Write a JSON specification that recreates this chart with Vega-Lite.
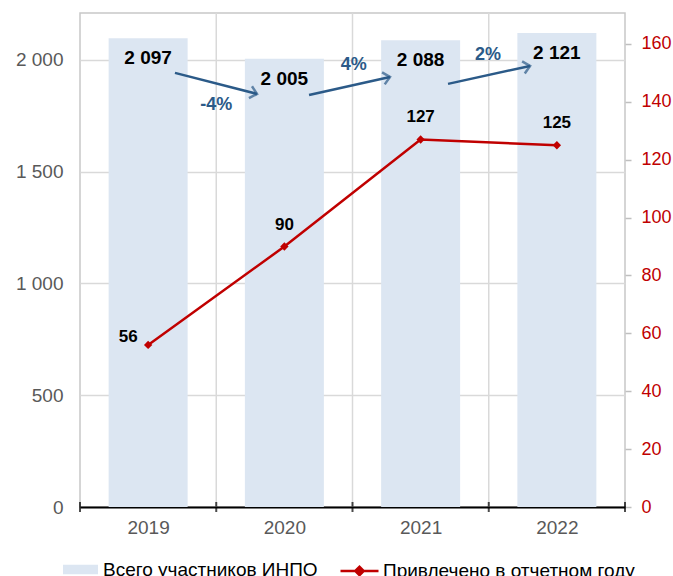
{
  "$schema": "https://vega.github.io/schema/vega-lite/v6.json",
  "width": 545,
  "height": 494,
  "autosize": {"type": "none"},
  "padding": {"left": 80, "top": 13, "right": 48, "bottom": 69},
  "background": "white",
  "config": {
    "locale": {"number": {"decimal": ",", "thousands": " ", "grouping": [3], "currency": ["", ""]}},
    "font": "Liberation Sans",
    "view": {"stroke": "#c8c8c8", "strokeWidth": 1.5},
    "axis": {"labelFont": "Liberation Sans", "labelFontSize": 19, "labelColor": "#595959", "title": null},
    "legend": {"labelFont": "Liberation Sans", "labelFontSize": 19, "labelColor": "#000000", "padding": 0, "orient": "none", "title": null, "labelLimit": 400}
  },
  "datasets": {
    "main": [
      {"year": 2019, "total": 2097, "new": 56},
      {"year": 2020, "total": 2005, "new": 90},
      {"year": 2021, "total": 2088, "new": 127},
      {"year": 2022, "total": 2121, "new": 125}
    ],
    "arrows": [
      {"id": 1, "xs": 2019.197, "ys": 1942, "xe": 2019.799, "ye": 1848},
      {"id": 2, "xs": 2020.181, "ys": 1843, "xe": 2020.775, "ye": 1924},
      {"id": 3, "xs": 2021.201, "ys": 1893, "xe": 2021.803, "ye": 1973}
    ],
    "changes": [
      {"xb": 2019.5, "pct": "-4%", "ly": 1800},
      {"xb": 2020.51, "pct": "4%", "ly": 1977},
      {"xb": 2021.494, "pct": "2%", "ly": 2022}
    ],
    "bounds": [
      {"b": 2018.5}, {"b": 2019.5}, {"b": 2020.5}, {"b": 2021.5}, {"b": 2022.5}
    ]
  },
  "resolve": {"scale": {"y": "independent"}},
  "layer": [
    {
      "layer": [
        {
          "data": {"name": "bounds"},
          "transform": [{"filter": "datum.b > 2019 && datum.b < 2022"}],
          "mark": {"type": "rule", "color": "#d9d9d9", "strokeWidth": 1.5},
          "encoding": {
            "x": {"field": "b", "type": "quantitative", "scale": {"domain": [2018.5, 2022.5], "nice": false, "zero": false, "padding": 0},
              "axis": {"values": [2019, 2020, 2021, 2022], "format": "d", "labelExpr": "datum.value", "ticks": false, "grid": false, "domain": true, "domainColor": "#000000", "domainWidth": 2, "labelPadding": 11, "labelFlush": false, "title": null}}
          }
        },
        {
          "data": {"name": "main"},
          "mark": {"type": "bar", "color": "#dce6f2", "size": 79},
          "encoding": {
            "x": {"field": "year", "type": "quantitative", "title": null},
            "y": {"field": "total", "type": "quantitative", "scale": {"domain": [0, 2210], "nice": false},
              "axis": {"values": [0, 500, 1000, 1500, 2000], "labelExpr": "format(datum.value, ',')", "ticks": false, "domain": false, "grid": true, "gridColor": "#d9d9d9", "gridWidth": 1.5, "labelPadding": 17, "title": null}},
            "color": {"datum": "Всего участников ИНПО", "scale": {"range": ["#dce6f2"]},
              "legend": {"symbolType": "M-1,-0.27H1V0.27H-1Z", "symbolSize": 1225, "symbolStrokeWidth": 0, "labelOffset": 5, "legendX": -17, "legendY": 539}}
          }
        },
        {
          "data": {"name": "main"},
          "mark": {"type": "text", "font": "Liberation Sans", "fontSize": 19, "fontWeight": "bold", "color": "#000000", "baseline": "middle", "dy": 20},
          "encoding": {
            "x": {"field": "year", "type": "quantitative", "title": null},
            "y": {"field": "total", "type": "quantitative", "title": null},
            "text": {"field": "total", "type": "quantitative", "format": ","}
          }
        },
        {
          "data": {"name": "arrows"},
          "mark": {"type": "rule", "color": "#2b5a88", "strokeWidth": 2.5},
          "encoding": {
            "x": {"field": "xs", "type": "quantitative", "title": null},
            "x2": {"field": "xe"},
            "y": {"field": "ys", "type": "quantitative", "title": null},
            "y2": {"field": "ye"}
          }
        },
        {
          "data": {"name": "arrows"},
          "transform": [{"filter": "datum.id == 1"}],
          "mark": {"type": "point", "shape": "M-1.1,-1L0,0L-1.1,1", "size": 150, "filled": false, "color": "#2b5a88", "strokeWidth": 2.5, "angle": 14.4},
          "encoding": {
            "x": {"field": "xe", "type": "quantitative", "title": null},
            "y": {"field": "ye", "type": "quantitative", "title": null}
          }
        },
        {
          "data": {"name": "arrows"},
          "transform": [{"filter": "datum.id != 1"}],
          "mark": {"type": "point", "shape": "M-1.1,-1L0,0L-1.1,1", "size": 150, "filled": false, "color": "#2b5a88", "strokeWidth": 2.5, "angle": 347.5},
          "encoding": {
            "x": {"field": "xe", "type": "quantitative", "title": null},
            "y": {"field": "ye", "type": "quantitative", "title": null}
          }
        },
        {
          "data": {"name": "changes"},
          "mark": {"type": "text", "font": "Liberation Sans", "fontSize": 18, "fontWeight": "bold", "color": "#2b5a88", "baseline": "middle"},
          "encoding": {
            "x": {"field": "xb", "type": "quantitative", "title": null},
            "y": {"field": "ly", "type": "quantitative", "title": null},
            "text": {"field": "pct"}
          }
        },
        {
          "data": {"name": "bounds"},
          "mark": {"type": "tick", "orient": "vertical", "size": 10, "thickness": 2, "color": "#000000"},
          "encoding": {
            "x": {"field": "b", "type": "quantitative", "title": null},
            "y": {"datum": 0, "type": "quantitative"}
          }
        }
      ]
    },
    {
      "data": {"name": "main"},
      "layer": [
        {
          "mark": {"type": "line", "strokeWidth": 2.5},
          "encoding": {
            "x": {"field": "year", "type": "quantitative", "title": null},
            "y": {"field": "new", "type": "quantitative", "scale": {"domain": [0, 170.7], "nice": false},
              "axis": {"orient": "right", "values": [0, 20, 40, 60, 80, 100, 120, 140, 160], "grid": false, "domain": false, "ticks": true, "tickColor": "#bfbfbf", "tickSize": 6, "tickWidth": 1.5, "labelPadding": 10, "labelFontSize": 18, "labelColor": "#c00000", "title": null}},
            "stroke": {"datum": "Привлечено  в отчетном году", "scale": {"range": ["#c00000"]},
              "legend": {"symbolType": "M-1,0H1M-0.22,0L0,-0.22L0.22,0L0,0.22Z", "symbolSize": 1444, "symbolStrokeWidth": 2.5, "symbolFillColor": "#c00000", "labelOffset": 3, "legendX": 259, "legendY": 537.5}}
          }
        },
        {
          "mark": {"type": "point", "shape": "diamond", "filled": true, "color": "#c00000", "size": 70, "opacity": 1},
          "encoding": {
            "x": {"field": "year", "type": "quantitative", "title": null},
            "y": {"field": "new", "type": "quantitative", "title": null}
          }
        },
        {
          "transform": [{"filter": "datum.year != 2019"}],
          "mark": {"type": "text", "font": "Liberation Sans", "fontSize": 17, "fontWeight": "bold", "color": "#000000", "baseline": "middle", "dy": -22},
          "encoding": {
            "x": {"field": "year", "type": "quantitative", "title": null},
            "y": {"field": "new", "type": "quantitative", "title": null},
            "text": {"field": "new", "type": "quantitative"}
          }
        },
        {
          "transform": [{"filter": "datum.year == 2019"}],
          "mark": {"type": "text", "font": "Liberation Sans", "fontSize": 17, "fontWeight": "bold", "color": "#000000", "baseline": "middle", "dx": -20, "dy": -8},
          "encoding": {
            "x": {"field": "year", "type": "quantitative", "title": null},
            "y": {"field": "new", "type": "quantitative", "title": null},
            "text": {"field": "new", "type": "quantitative"}
          }
        }
      ]
    }
  ]
}
